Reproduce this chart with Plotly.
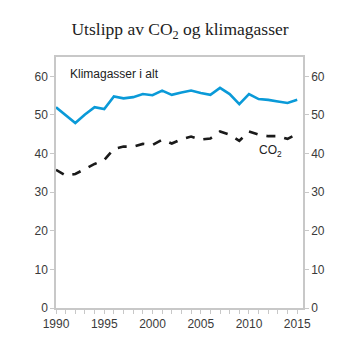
import plotly.graph_objects as go

years = list(range(1990, 2016))
klimagasser = [52.0, 49.9, 47.9, 50.1, 52.0, 51.5, 54.8, 54.3, 54.6, 55.4, 55.1, 56.3, 55.2,
               55.8, 56.3, 55.7, 55.2, 57.0, 55.4, 52.8, 55.4, 54.1, 53.9, 53.5, 53.1, 53.9]
co2 = [35.8, 34.3, 34.7, 36.0, 37.3, 38.3, 41.2, 41.8, 41.8, 42.5, 42.2, 43.6, 42.6,
       43.7, 44.4, 43.6, 43.9, 45.7, 44.9, 43.3, 45.7, 44.9, 44.5, 44.5, 43.8, 45.1]
y_ticks = [0, 10, 20, 30, 40, 50, 60]
x_ticks = [1990, 1995, 2000, 2005, 2010, 2015]

blue = "#0a9ad8"
axis_col = "#c8c8c8"
tick_font = dict(family="Liberation Sans, Arial", size=12, color="#3a3a3a")

fig = go.Figure()
fig.add_trace(go.Scatter(x=years, y=klimagasser, mode="lines",
                         line=dict(color=blue, width=2.6), showlegend=False))
fig.add_trace(go.Scatter(x=years, y=co2, mode="lines",
                         line=dict(color="#1a1a1a", width=2.6, dash="dash"), showlegend=False))
fig.add_trace(go.Scatter(x=years, y=co2, mode="lines", yaxis="y2",
                         line=dict(color="rgba(0,0,0,0)", width=0), showlegend=False,
                         hoverinfo="skip"))

fig.update_layout(
    width=353, height=353,
    margin=dict(l=56, r=50, t=57, b=45),
    paper_bgcolor="white", plot_bgcolor="white",
    title=dict(text="Utslipp av CO<sub>2</sub> og klimagasser",
               font=dict(family="Liberation Serif, Times New Roman", size=17.5, color="#222222"),
               x=0.51, xanchor="center", y=0.918, yanchor="middle"),
    xaxis=dict(range=[1990, 2015.6], tickvals=x_ticks, ticks="outside", ticklen=4,
               tickcolor=axis_col, showgrid=False, zeroline=False,
               showline=True, linecolor=axis_col, linewidth=1.5, mirror=True,
               minor=dict(tickvals=years, ticks="outside", ticklen=4, tickcolor=axis_col),
               tickfont=tick_font, ticklabelstandoff=0),
    yaxis=dict(range=[0, 65], tickvals=y_ticks, ticks="outside", ticklen=4,
               tickcolor=axis_col, showgrid=False, zeroline=False,
               showline=True, linecolor=axis_col, linewidth=1.5,
               tickfont=tick_font),
    yaxis2=dict(range=[0, 65], tickvals=y_ticks, ticks="outside", ticklen=4,
                tickcolor=axis_col, showgrid=False, zeroline=False,
                showline=True, linecolor=axis_col, linewidth=1.5,
                overlaying="y", side="right", tickfont=tick_font),
    annotations=[
        dict(text="Klimagasser i alt", x=1991.2, y=60.7, xref="x", yref="y",
             xanchor="left", yanchor="middle", showarrow=False,
             font=dict(family="Liberation Sans, Arial", size=12, color="#222222")),
        dict(text="CO<sub>2</sub>", x=2012.2, y=40.7, xref="x", yref="y",
             xanchor="center", yanchor="middle", showarrow=False,
             font=dict(family="Liberation Sans, Arial", size=12, color="#222222")),
    ],
)

fig.write_html("out.html")
